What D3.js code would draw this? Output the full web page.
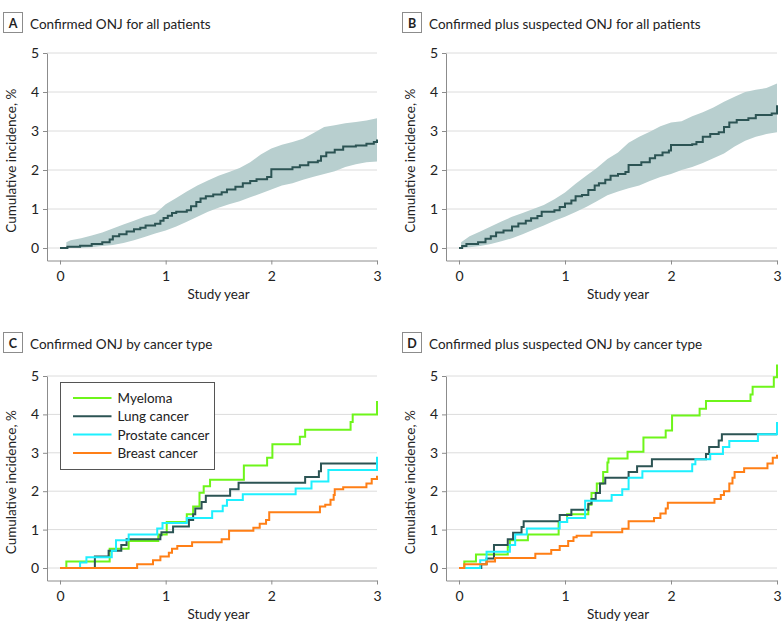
<!DOCTYPE html>
<meta charset="utf-8">
<style>
body { margin: 0; background: #fff; }
svg { display: block; font-family: Lato, "Noto Sans", sans-serif; }
.axis .domain, .axis line { stroke: #8c8c8c; }
.axis text { fill: #222; font-size: 14px; font-family: Lato, "Noto Sans", sans-serif; }
</style>
<svg width="783" height="634"></svg>
<script src="https://d3js.org/d3.v7.min.js"></script>
<script>

// tick labels
var xTicks = [0, 1, 2, 3];
var yTicks = [0, 1, 2, 3, 4, 5];

// panel A: confirmed ONJ, all patients  [year, cumulative %]
var aLine = [[0,0],[0.07,0.03],[0.19,0.06],[0.3,0.1],[0.4,0.15],[0.47,0.22],[0.5,0.3],[0.56,0.35],[0.63,0.42],[0.7,0.48],[0.76,0.52],[0.81,0.58],[0.9,0.62],[0.95,0.7],[0.98,0.77],[1.02,0.83],[1.06,0.9],[1.1,0.93],[1.2,0.97],[1.24,1.07],[1.29,1.18],[1.33,1.27],[1.38,1.33],[1.45,1.37],[1.53,1.43],[1.58,1.5],[1.66,1.57],[1.73,1.66],[1.8,1.72],[1.86,1.76],[1.96,1.82],[2.0,2.02],[2.2,2.07],[2.27,2.12],[2.35,2.2],[2.44,2.24],[2.47,2.35],[2.52,2.45],[2.6,2.52],[2.68,2.6],[2.8,2.63],[2.9,2.67],[2.97,2.72],[3.0,2.78]];
var aBandX  = [0.06,0.1,0.2,0.3,0.4,0.5,0.6,0.7,0.8,0.9,1.0,1.1,1.2,1.3,1.4,1.5,1.6,1.7,1.8,1.9,2.0,2.1,2.2,2.3,2.4,2.5,2.6,2.7,2.8,2.9,3.0];
var aBandLo = [0,0,0,0.02,0.05,0.08,0.13,0.2,0.28,0.37,0.45,0.55,0.67,0.8,0.93,1.03,1.12,1.2,1.3,1.4,1.5,1.6,1.66,1.75,1.83,1.9,1.97,2.08,2.15,2.2,2.22];
var aBandHi = [0.15,0.2,0.25,0.32,0.4,0.5,0.6,0.7,0.8,0.88,1.12,1.28,1.45,1.6,1.73,1.85,1.95,2.05,2.2,2.4,2.55,2.65,2.72,2.8,2.95,3.1,3.15,3.2,3.23,3.27,3.33];

// panel B: confirmed plus suspected ONJ, all patients
var bLine = [[0,0],[0.03,0.05],[0.07,0.1],[0.18,0.15],[0.25,0.24],[0.3,0.3],[0.35,0.4],[0.42,0.45],[0.5,0.55],[0.56,0.63],[0.63,0.7],[0.68,0.76],[0.74,0.82],[0.78,0.93],[0.9,0.97],[0.95,1.05],[1.0,1.14],[1.06,1.22],[1.1,1.33],[1.16,1.36],[1.22,1.49],[1.28,1.6],[1.32,1.66],[1.38,1.75],[1.43,1.85],[1.5,1.9],[1.57,1.95],[1.6,2.13],[1.72,2.2],[1.8,2.3],[1.85,2.38],[1.92,2.45],[1.98,2.5],[2.0,2.64],[2.2,2.66],[2.24,2.72],[2.3,2.85],[2.37,2.92],[2.45,2.97],[2.5,3.1],[2.55,3.22],[2.62,3.28],[2.73,3.33],[2.8,3.41],[2.95,3.45],[3.0,3.66]];
var bBandX  = [0.02,0.1,0.2,0.3,0.4,0.5,0.6,0.7,0.8,0.9,1.0,1.1,1.2,1.3,1.4,1.5,1.6,1.7,1.8,1.9,2.0,2.1,2.2,2.3,2.4,2.5,2.6,2.7,2.8,2.9,3.0];
var bBandLo = [0,0.02,0.05,0.1,0.17,0.25,0.35,0.47,0.58,0.7,0.8,0.92,1.05,1.2,1.35,1.45,1.53,1.6,1.72,1.82,1.9,2.0,2.08,2.18,2.3,2.42,2.6,2.75,2.85,2.92,2.97];
var bBandHi = [0.15,0.3,0.42,0.55,0.68,0.8,0.9,1.0,1.1,1.25,1.42,1.65,1.85,2.05,2.28,2.45,2.7,2.85,2.98,3.12,3.22,3.25,3.38,3.48,3.6,3.75,3.88,4.0,4.06,4.1,4.22];

// panels C and D: by cancer type
var cancerTypes = ["Myeloma", "Lung cancer", "Prostate cancer", "Breast cancer"];
var cancerColors = ["#6ef51a", "#2c5454", "#1ef0ff", "#ff7f16"];

var cMyeloma  = [[0,0],[0.06,0.17],[0.47,0.5],[0.65,0.7],[0.93,0.87],[1.01,1.2],[1.2,1.4],[1.26,1.6],[1.32,1.96],[1.36,2.13],[1.42,2.3],[1.74,2.67],[1.96,2.87],[2.01,3.22],[2.27,3.42],[2.32,3.6],[2.75,3.8],[2.77,4.0],[3.0,4.35]];
var cLung     = [[0,0],[0.33,0.3],[0.46,0.45],[0.58,0.6],[0.63,0.75],[0.95,0.85],[0.96,0.93],[1.07,1.08],[1.22,1.25],[1.26,1.4],[1.28,1.55],[1.34,1.72],[1.38,1.88],[1.61,2.05],[1.69,2.22],[2.32,2.37],[2.45,2.52],[2.47,2.72],[3.0,2.72]];
var cProstate = [[0,0],[0.19,0.14],[0.25,0.28],[0.49,0.45],[0.53,0.72],[0.65,0.87],[0.92,1.03],[0.97,1.17],[1.2,1.3],[1.44,1.48],[1.54,1.62],[1.58,1.77],[1.73,1.92],[2.23,2.07],[2.38,2.25],[2.54,2.55],[3.0,2.9]];
var cBreast   = [[0,0],[0.73,0.1],[0.88,0.2],[0.95,0.3],[1.03,0.4],[1.06,0.5],[1.11,0.57],[1.25,0.67],[1.53,0.75],[1.6,0.97],[1.83,1.05],[1.89,1.15],[1.95,1.25],[1.98,1.45],[2.46,1.6],[2.51,1.65],[2.56,1.78],[2.59,1.9],[2.6,2.05],[2.68,2.1],[2.9,2.2],[2.95,2.32],[3.0,2.4]];

var dMyeloma  = [[0,0],[0.05,0.17],[0.16,0.35],[0.46,0.55],[0.48,0.72],[0.65,0.87],[0.94,1.2],[1.02,1.4],[1.22,1.65],[1.25,1.95],[1.3,2.2],[1.36,2.5],[1.4,2.75],[1.41,2.85],[1.59,3.03],[1.74,3.4],[1.95,3.58],[2.01,3.97],[2.27,4.15],[2.33,4.35],[2.75,4.52],[2.77,4.72],[2.97,4.97],[3.0,5.3]];
var dLung     = [[0,0],[0.21,0.1],[0.26,0.25],[0.33,0.6],[0.46,0.75],[0.51,0.92],[0.59,1.07],[0.61,1.22],[0.95,1.38],[1.06,1.52],[1.22,1.67],[1.25,1.8],[1.29,1.95],[1.33,2.2],[1.38,2.35],[1.6,2.5],[1.68,2.65],[1.82,2.83],[2.33,2.97],[2.36,3.15],[2.45,3.32],[2.48,3.48],[3.0,3.48]];
var dProstate = [[0,0],[0.2,0.2],[0.26,0.42],[0.48,0.6],[0.53,0.87],[0.64,1.03],[0.95,1.2],[1.02,1.3],[1.19,1.75],[1.44,1.9],[1.54,2.05],[1.6,2.35],[1.73,2.52],[2.2,2.7],[2.23,2.83],[2.37,2.97],[2.49,3.15],[2.55,3.31],[2.82,3.48],[3.0,3.8]];
var dBreast   = [[0,0],[0.05,0.1],[0.26,0.17],[0.34,0.26],[0.72,0.37],[0.87,0.47],[0.95,0.57],[1.03,0.7],[1.08,0.8],[1.11,0.84],[1.25,0.93],[1.54,1.02],[1.6,1.22],[1.84,1.3],[1.9,1.42],[1.95,1.55],[1.97,1.7],[2.41,1.8],[2.47,1.9],[2.5,2.0],[2.55,2.2],[2.58,2.35],[2.6,2.5],[2.69,2.6],[2.91,2.72],[2.96,2.87],[3.0,2.95]];

var svg = d3.select("svg");
var fs = 13.5;

// builds one panel frame and returns its scales
function panel(p) {
    var g = svg.append("g");
    var x = d3.scaleLinear().domain([0, 3]).range([p.x0, p.x3]);
    var y = d3.scaleLinear().domain([0, 5]).range([p.y0, p.y5]);
    var bottom = p.y0 + 12.5;
    var xAx = x.copy().domain([x.invert(p.axisX), 3]).range([p.axisX, p.x3]);
    var yAx = y.copy().domain([y.invert(bottom), 5]).range([bottom, p.y5]);

    // title box + title
    g.append("rect")
        .attr("x", p.axisX - 43.5).attr("y", p.titleY - 16.5)
        .attr("width", 19).attr("height", 20)
        .attr("fill", "#fff").attr("stroke", "#8c8c8c");
    g.append("text")
        .attr("x", p.axisX - 34).attr("y", p.titleY - 1.5)
        .attr("text-anchor", "middle")
        .attr("font-size", 12.5).attr("font-weight", "bold").attr("fill", "#222")
        .text(p.letter);
    g.append("text")
        .attr("x", p.axisX - 17).attr("y", p.titleY)
        .attr("font-size", fs).attr("fill", "#222")
        .text(p.title);

    // grid
    g.selectAll("line.grid").data(yTicks).enter().append("line")
        .attr("class", "grid")
        .attr("x1", p.axisX).attr("x2", p.x3)
        .attr("y1", function(d) { return y(d); }).attr("y2", function(d) { return y(d); })
        .attr("stroke", "#dcdcdc");

    g.append("g").attr("class", "axis")
        .attr("transform", "translate(0," + bottom + ")")
        .call(d3.axisBottom(xAx).tickValues(xTicks).tickFormat(d3.format("d")).tickSize(4).tickSizeOuter(0).tickPadding(4))
        .selectAll("text").attr("dy", "0.9em");
    g.append("g").attr("class", "axis")
        .attr("transform", "translate(" + p.axisX + ",0)")
        .call(d3.axisLeft(yAx).tickValues(yTicks).tickFormat(d3.format("d")).tickSize(4).tickSizeOuter(0).tickPadding(4));

    g.append("text")
        .attr("x", (p.x0 + p.x3) / 2).attr("y", bottom + 38.5)
        .attr("text-anchor", "middle").attr("font-size", fs).attr("fill", "#222")
        .text("Study year");
    g.append("text")
        .attr("transform", "translate(" + (p.axisX - 31) + "," + ((p.y5 + bottom) / 2 + 4) + ") rotate(-90)")
        .attr("text-anchor", "middle").attr("font-size", fs).attr("fill", "#222")
        .text("Cumulative incidence, %");

    return { g: g, x: x, y: y };
}

function stepLine(s, data, color) {
    var line = d3.line()
        .x(function(d) { return s.x(d[0]); })
        .y(function(d) { return s.y(d[1]); })
        .curve(d3.curveStepAfter);
    s.g.append("path").datum(data)
        .attr("d", line)
        .attr("fill", "none").attr("stroke", color).attr("stroke-width", 2);
}

function band(s, xs, lo, hi) {
    var area = d3.area()
        .x(function(d, i) { return s.x(xs[i]); })
        .y0(function(d, i) { return s.y(lo[i]); })
        .y1(function(d, i) { return s.y(hi[i]); })
        .curve(d3.curveLinear);
    s.g.append("path").datum(xs)
        .attr("d", area)
        .attr("fill", "#b8cfcf");
}

var top5 = 53, top0 = 248, bot5 = 376, bot0 = 568;

var pA = panel({ letter: "A", title: "Confirmed ONJ for all patients", axisX: 47, x0: 60, x3: 377, y0: top0, y5: top5, titleY: 29 });
band(pA, aBandX, aBandLo, aBandHi);
stepLine(pA, aLine, "#2c5454");

var pB = panel({ letter: "B", title: "Confirmed plus suspected ONJ for all patients", axisX: 446, x0: 459, x3: 777, y0: top0, y5: top5, titleY: 29 });
band(pB, bBandX, bBandLo, bBandHi);
stepLine(pB, bLine, "#2c5454");

var pC = panel({ letter: "C", title: "Confirmed ONJ by cancer type", axisX: 47, x0: 60, x3: 377, y0: bot0, y5: bot5, titleY: 349 });
[cMyeloma, cLung, cProstate, cBreast].forEach(function(s, i) { stepLine(pC, s, cancerColors[i]); });

var pD = panel({ letter: "D", title: "Confirmed plus suspected ONJ by cancer type", axisX: 446, x0: 459, x3: 777, y0: bot0, y5: bot5, titleY: 349 });
[dMyeloma, dLung, dProstate, dBreast].forEach(function(s, i) { stepLine(pD, s, cancerColors[i]); });

// legend in panel C
var leg = svg.append("g").attr("transform", "translate(60.5,382.5)");
leg.append("rect").attr("width", 154).attr("height", 87)
    .attr("fill", "#fff").attr("stroke", "#555");
var rows = leg.selectAll("g.row").data(cancerTypes).enter().append("g")
    .attr("transform", function(d, i) { return "translate(0," + (15.5 + i * 18.3) + ")"; });
rows.append("line").attr("x1", 12.5).attr("x2", 51)
    .attr("stroke", function(d, i) { return cancerColors[i]; }).attr("stroke-width", 2);
rows.append("text").attr("x", 57).attr("y", 5)
    .attr("font-size", fs).attr("fill", "#222")
    .text(function(d) { return d; });

</script>
